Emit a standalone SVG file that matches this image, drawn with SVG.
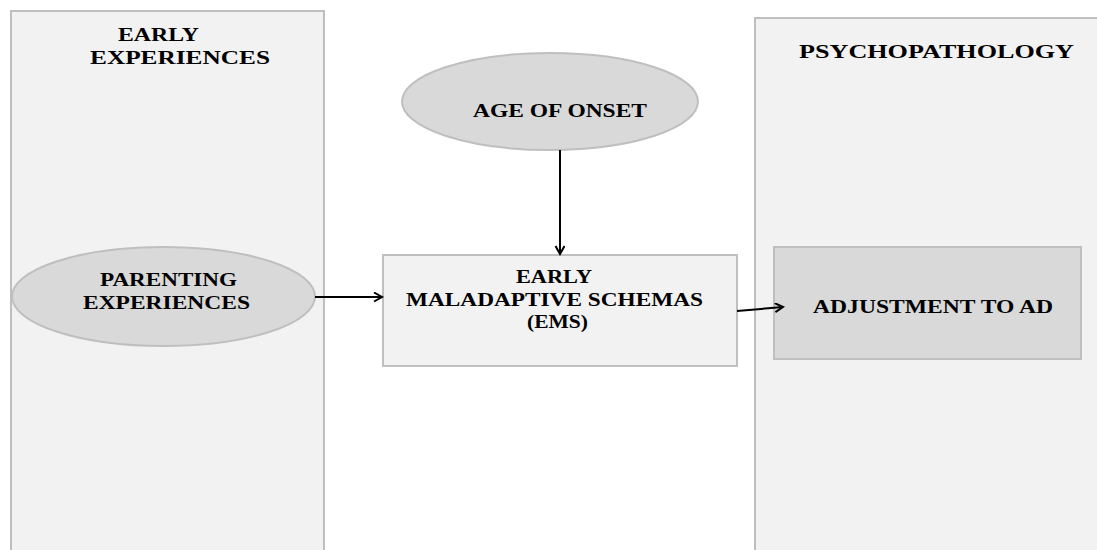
<svg xmlns="http://www.w3.org/2000/svg" width="1097" height="550" viewBox="0 0 1097 550">
<style>
.panel{fill:#f2f2f2;stroke:#bfbfbf;stroke-width:2}
.oval{fill:#d9d9d9;stroke:#bfbfbf;stroke-width:2}
.box{fill:#f2f2f2;stroke:#bfbfbf;stroke-width:2}
.dbox{fill:#d9d9d9;stroke:#bfbfbf;stroke-width:2}
text{font-family:"Liberation Serif","Times New Roman",serif;font-weight:bold;font-size:18.5px;fill:#000}
.conn{stroke:#000;stroke-width:2;fill:none}
</style>
<defs>
<marker id="arr" markerWidth="12" markerHeight="12" refX="9" refY="5" orient="auto" markerUnits="userSpaceOnUse">
<path d="M1,0.5 L9,5 L1,9.5" fill="none" stroke="#000" stroke-width="2"/>
</marker>
</defs>
<rect width="1097" height="550" fill="#fff"/>
<g id="early-experiences">
<rect class="panel" x="11" y="11" width="313" height="560"/>
<text x="118" y="41" textLength="81" lengthAdjust="spacingAndGlyphs">EARLY</text>
<text x="90" y="64" textLength="180" lengthAdjust="spacingAndGlyphs">EXPERIENCES</text>
</g>
<g id="psychopathology">
<rect class="panel" x="755" y="18" width="360" height="560"/>
<text x="799" y="58" textLength="275" lengthAdjust="spacingAndGlyphs">PSYCHOPATHOLOGY</text>
</g>
<g id="age-of-onset">
<ellipse class="oval" cx="550" cy="101.5" rx="148" ry="48.5"/>
<text x="473" y="117" textLength="174" lengthAdjust="spacingAndGlyphs">AGE OF ONSET</text>
</g>
<g id="parenting-experiences">
<ellipse class="oval" cx="163.5" cy="296.5" rx="151.5" ry="49.5"/>
<text x="100" y="286" textLength="137" lengthAdjust="spacingAndGlyphs">PARENTING</text>
<text x="83" y="309" textLength="167" lengthAdjust="spacingAndGlyphs">EXPERIENCES</text>
</g>
<g id="ems">
<rect class="box" x="383" y="255" width="354" height="111"/>
<text x="516" y="283" textLength="76" lengthAdjust="spacingAndGlyphs">EARLY</text>
<text x="406" y="306" textLength="297" lengthAdjust="spacingAndGlyphs">MALADAPTIVE SCHEMAS</text>
<text x="527" y="328" textLength="61" lengthAdjust="spacingAndGlyphs">(EMS)</text>
</g>
<g id="adjustment">
<rect class="dbox" x="774" y="247" width="307" height="112"/>
<text x="813" y="313" textLength="240" lengthAdjust="spacingAndGlyphs">ADJUSTMENT TO AD</text>
</g>
<g id="connectors">
<line class="conn" x1="560" y1="150" x2="560" y2="254" marker-end="url(#arr)"/>
<line class="conn" x1="315" y1="297" x2="382" y2="297" marker-end="url(#arr)"/>
<line class="conn" x1="737" y1="311" x2="783" y2="307" marker-end="url(#arr)"/>
</g>
</svg>
